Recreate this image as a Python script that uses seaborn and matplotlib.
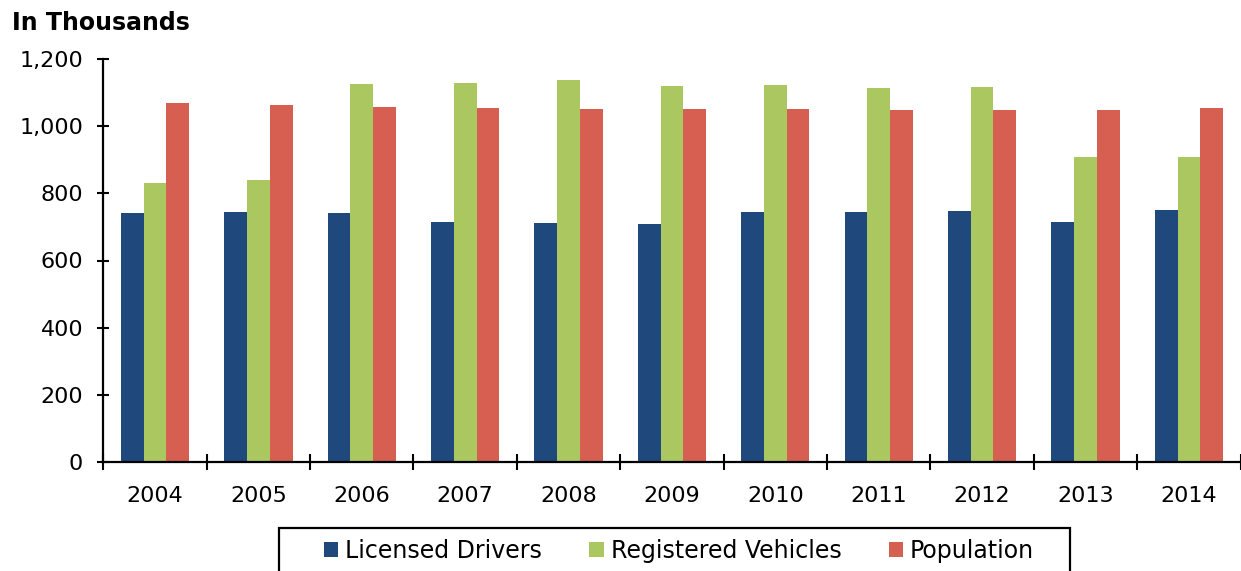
import pandas as pd
import numpy as np
import matplotlib
matplotlib.use("Agg")
import matplotlib.pyplot as plt
import seaborn as sns
from matplotlib.patches import Rectangle
from matplotlib.ticker import FuncFormatter, FixedLocator

# ---------------------------------------------------------
# Data (in thousands)
# ---------------------------------------------------------
years = ["2004", "2005", "2006", "2007", "2008", "2009",
         "2010", "2011", "2012", "2013", "2014"]
licensed_drivers = [740, 744, 742, 714, 713, 710, 743, 744, 746, 716, 749]
registered_vehicles = [832, 839, 1127, 1128, 1138, 1121, 1124, 1113, 1117, 909, 909]
population = [1070, 1064, 1058, 1054, 1052, 1052, 1052, 1049, 1049, 1049, 1053]

series_names = ["Licensed Drivers", "Registered Vehicles", "Population"]
series_colors = ["#1F497D", "#ABC75F", "#D65F51"]

df = pd.DataFrame({
    "Year": years * 3,
    "Value": licensed_drivers + registered_vehicles + population,
    "Series": [s for s in series_names for _ in years],
})

sns.set_style("white")
plt.rcParams["font.family"] = ["DejaVu Sans"]
plt.rcParams["text.color"] = "black"
plt.rcParams["xtick.color"] = "black"
plt.rcParams["ytick.color"] = "black"

W, H = 1241, 571
fig = plt.figure(figsize=(W / 100, H / 100), dpi=100)
ax = fig.add_axes([103.3 / W, 1 - 462 / H, (1240.6 - 103.3) / W, (462 - 59) / H])

sns.barplot(data=df, x="Year", y="Value", hue="Series", hue_order=series_names,
            palette=series_colors, saturation=1, width=0.66, linewidth=0,
            errorbar=None, ax=ax)

handles, labels = ax.get_legend_handles_labels()
if ax.get_legend() is not None:
    ax.get_legend().remove()

# axes styling
ax.set_xlim(-0.5, len(years) - 0.5)
ax.set_ylim(0, 1200)
ax.set_yticks(range(0, 1201, 200))
ax.yaxis.set_major_formatter(FuncFormatter(lambda v, p: f"{int(v):,}"))
ax.set_xlabel("")
ax.set_ylabel("")

for side in ["top", "right"]:
    ax.spines[side].set_visible(False)
for side in ["left", "bottom"]:
    ax.spines[side].set_color("black")
    ax.spines[side].set_linewidth(1.6)

ax.tick_params(axis="y", direction="inout", length=9, width=1.5,
               labelsize=16, pad=10, left=True)
ax.tick_params(axis="x", which="major", length=0, labelsize=16, pad=17)
ax.xaxis.set_minor_locator(FixedLocator(np.arange(-0.5, len(years), 1.0)))
ax.tick_params(axis="x", which="minor", direction="inout", length=11, width=1.5,
               bottom=True)

fig.text(12 / W, 1 - 30 / H, "In Thousands", fontsize=17, fontweight="bold")

# legend: entries spread over the inner span, box drawn separately
leg_top = 1 - 539 / H
leg_h = 0.05
fig.legend(handles, labels, loc="upper left", ncol=3,
           bbox_to_anchor=(324 / W, leg_top - leg_h, (1034 - 324) / W, leg_h),
           mode="expand", borderaxespad=0, borderpad=0, fontsize=17,
           handlelength=0.6, handleheight=0.6, handletextpad=0.3,
           frameon=False)
fig.patches.append(Rectangle((279 / W, -0.05), (1070 - 279) / W, 0.05 + 43 / H,
                             transform=fig.transFigure, fill=False,
                             edgecolor="black", linewidth=1.6))

fig.savefig("out.png", dpi=100)
